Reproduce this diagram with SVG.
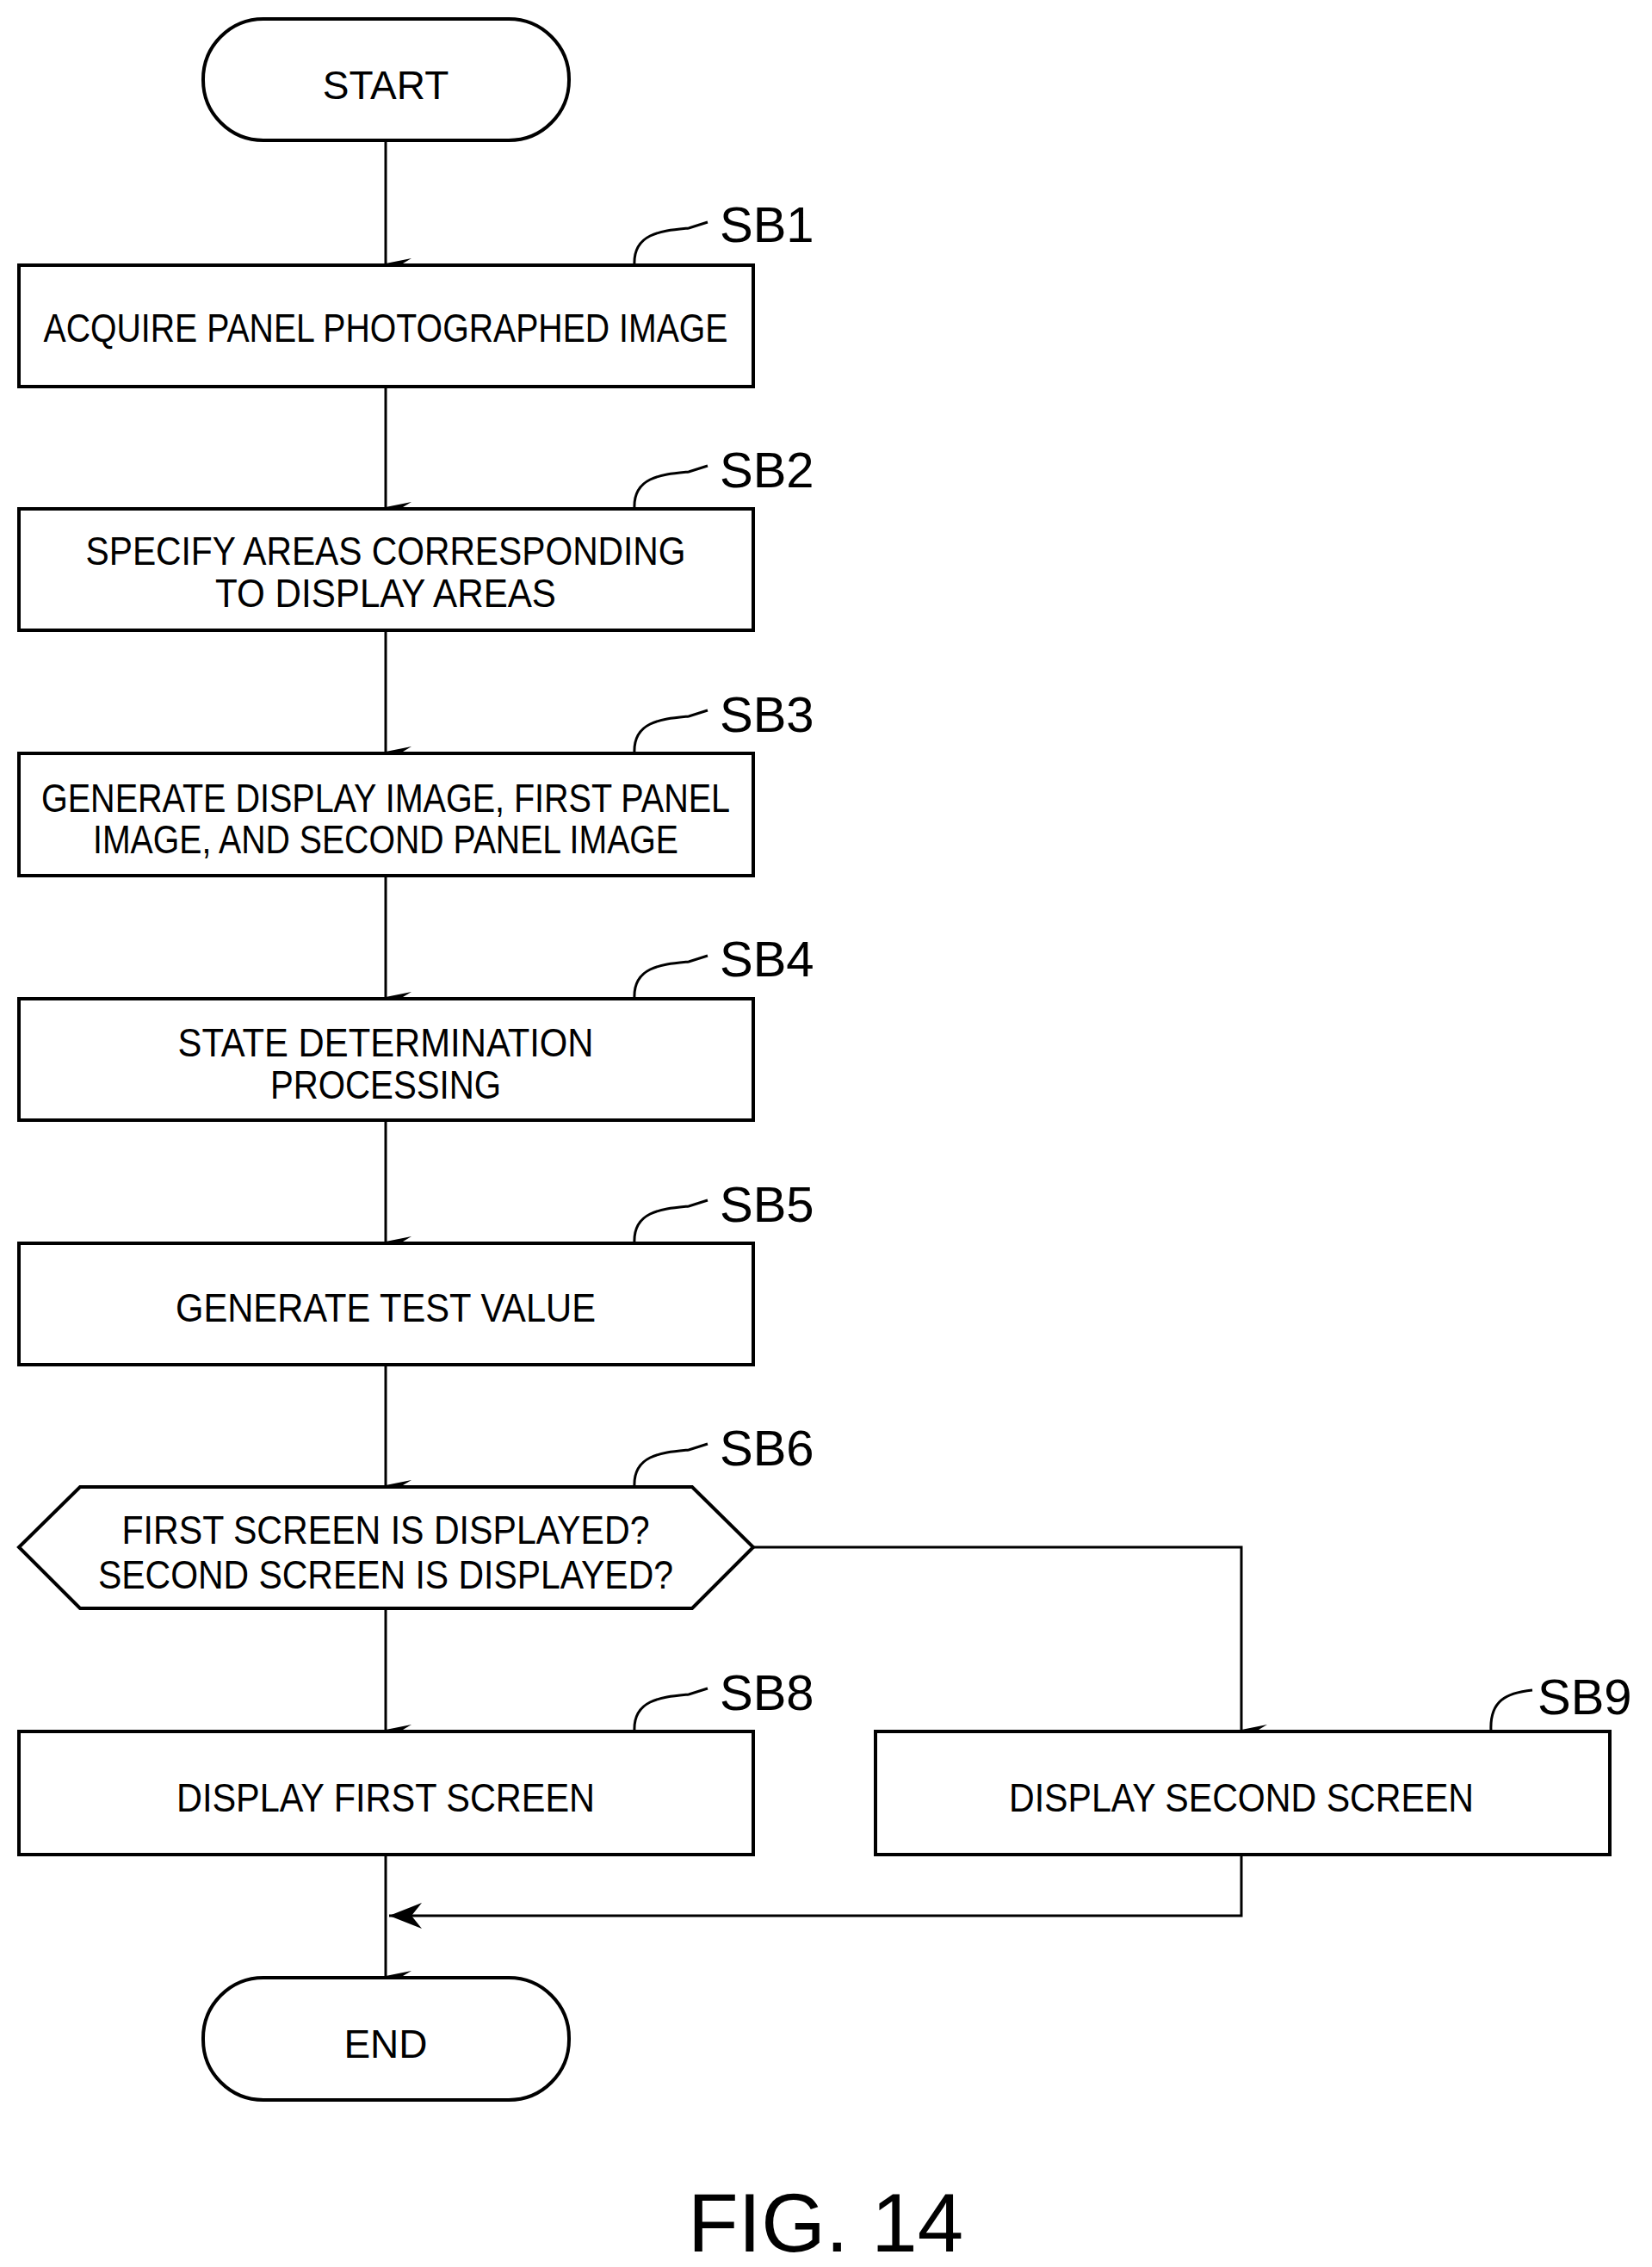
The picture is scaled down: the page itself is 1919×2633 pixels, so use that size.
<svg xmlns="http://www.w3.org/2000/svg" width="1919" height="2633" viewBox="0 0 1919 2633">
<defs>
<style>
.b{fill:#fff;stroke:#000;stroke-width:4}
.t{font-family:"Liberation Sans Narrow","Liberation Sans",sans-serif;font-size:46px;text-anchor:middle}
.l{font-family:"Liberation Sans",sans-serif;font-size:58px}
.c{fill:none;stroke:#000;stroke-width:3}
</style>
<marker id="a" viewBox="0 0 12 30" refX="6" refY="30" markerWidth="12" markerHeight="30" markerUnits="userSpaceOnUse" orient="auto-start-reverse">
<path d="M0,0 L6,10 L12,0 L6,30 Z" fill="#000"/>
</marker>
<marker id="h" viewBox="0 0 30 12" refX="0" refY="6" markerWidth="30" markerHeight="24" markerUnits="userSpaceOnUse" orient="0">
<path d="M30,0 L20,6 L30,12 L0,6 Z" fill="#000"/>
</marker>
</defs>
<rect width="1919" height="2633" fill="#fff"/>
<g id="connectors" class="c">
<line x1="448" y1="163" x2="448" y2="306" marker-end="url(#a)"/>
<line x1="448" y1="449" x2="448" y2="589" marker-end="url(#a)"/>
<line x1="448" y1="732" x2="448" y2="873" marker-end="url(#a)"/>
<line x1="448" y1="1017" x2="448" y2="1158" marker-end="url(#a)"/>
<line x1="448" y1="1301" x2="448" y2="1442" marker-end="url(#a)"/>
<line x1="448" y1="1585" x2="448" y2="1725" marker-end="url(#a)"/>
<line x1="448" y1="1868" x2="448" y2="2009" marker-end="url(#a)"/>
<polyline points="875,1797 1442,1797 1442,2009" marker-end="url(#a)"/>
<line x1="448" y1="2154" x2="448" y2="2295" marker-end="url(#a)"/>
<polyline points="1442,2154 1442,2225 452,2225"/>
<path d="M452,2225 L490,2210 L478,2225 L490,2240 Z" fill="#000" stroke="none"/>
</g>
<g id="start"><rect class="b" x="236" y="22" width="425" height="141" rx="70"/><text class="t" x="448" y="115">START</text></g>
<g id="sb1"><rect class="b" x="22" y="308" width="853" height="141"/><text class="t" x="448" y="397" textLength="795" lengthAdjust="spacingAndGlyphs">ACQUIRE PANEL PHOTOGRAPHED IMAGE</text>
<path class="c" d="M737,308 C735,270 770,268 800,265 L822,258"/><text class="l" x="836" y="281">SB1</text></g>
<g id="sb2"><rect class="b" x="22" y="591" width="853" height="141"/><text class="t" x="448" y="656" textLength="697" lengthAdjust="spacingAndGlyphs">SPECIFY AREAS CORRESPONDING</text><text class="t" x="448" y="705" textLength="396" lengthAdjust="spacingAndGlyphs">TO DISPLAY AREAS</text>
<path class="c" d="M737,591 C735,553 770,551 800,548 L822,541"/><text class="l" x="836" y="566">SB2</text></g>
<g id="sb3"><rect class="b" x="22" y="875" width="853" height="142"/><text class="t" x="448" y="943" textLength="800" lengthAdjust="spacingAndGlyphs">GENERATE DISPLAY IMAGE, FIRST PANEL</text><text class="t" x="448" y="991" textLength="680" lengthAdjust="spacingAndGlyphs">IMAGE, AND SECOND PANEL IMAGE</text>
<path class="c" d="M737,875 C735,837 770,835 800,832 L822,825"/><text class="l" x="836" y="850">SB3</text></g>
<g id="sb4"><rect class="b" x="22" y="1160" width="853" height="141"/><text class="t" x="448" y="1227" textLength="483" lengthAdjust="spacingAndGlyphs">STATE DETERMINATION</text><text class="t" x="448" y="1276" textLength="268" lengthAdjust="spacingAndGlyphs">PROCESSING</text>
<path class="c" d="M737,1160 C735,1122 770,1120 800,1117 L822,1110"/><text class="l" x="836" y="1134">SB4</text></g>
<g id="sb5"><rect class="b" x="22" y="1444" width="853" height="141"/><text class="t" x="448" y="1535" textLength="488" lengthAdjust="spacingAndGlyphs">GENERATE TEST VALUE</text>
<path class="c" d="M737,1444 C735,1406 770,1404 800,1401 L822,1394"/><text class="l" x="836" y="1419">SB5</text></g>
<g id="sb6"><polygon class="b" points="22,1797 93,1727 804,1727 875,1797 804,1868 93,1868"/><text class="t" x="448" y="1793" textLength="613" lengthAdjust="spacingAndGlyphs">FIRST SCREEN IS DISPLAYED?</text><text class="t" x="448" y="1845" textLength="668" lengthAdjust="spacingAndGlyphs">SECOND SCREEN IS DISPLAYED?</text>
<path class="c" d="M737,1727 C735,1689 770,1687 800,1684 L822,1677"/><text class="l" x="836" y="1702">SB6</text></g>
<g id="sb8"><rect class="b" x="22" y="2011" width="853" height="143"/><text class="t" x="448" y="2104" textLength="486" lengthAdjust="spacingAndGlyphs">DISPLAY FIRST SCREEN</text>
<path class="c" d="M737,2011 C735,1973 770,1971 800,1968 L822,1961"/><text class="l" x="836" y="1986">SB8</text></g>
<g id="sb9"><rect class="b" x="1017" y="2011" width="853" height="143"/><text class="t" x="1442" y="2104" textLength="540" lengthAdjust="spacingAndGlyphs">DISPLAY SECOND SCREEN</text>
<path class="c" d="M1732,2011 C1730,1975 1750,1966 1780,1963"/><text class="l" x="1786" y="1991">SB9</text></g>
<g id="end"><rect class="b" x="236" y="2297" width="425" height="142" rx="70"/><text class="t" x="448" y="2390">END</text></g>
<text x="959" y="2615" font-family="Liberation Sans Narrow, Liberation Sans, sans-serif" font-size="96" text-anchor="middle">FIG. 14</text>
</svg>
